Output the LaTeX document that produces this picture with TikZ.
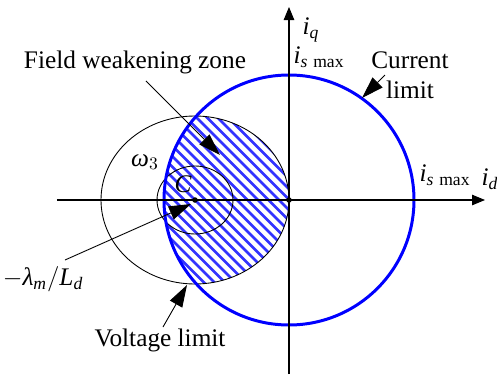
\documentclass[tikz,border=0pt]{standalone}
\usepackage{amsmath}
\usepackage{fontspec}
\setmainfont{Liberation Serif}
\usetikzlibrary{positioning,arrows.meta}
\newcommand{\itv}[1]{\textit{#1}}

\begin{document}
\begin{tikzpicture}[
  x = 0.2mm, y = 0.2mm, font = \fontsize{14.4}{17}\selectfont,
  axis/.style  = {line width=0.6pt, -{Triangle[length=2.6mm, width=2.1mm]}},
  curr/.style  = {draw=blue, line width=1.7pt},
  volt/.style  = {draw=black, line width=0.5pt},
  hatch/.style = {blue!80, line width=0.55mm},
  ptr/.style   = {line width=0.5pt, -{Triangle[length=4.4mm, width=2.8mm]}},
  dot/.style   = {circle, fill, inner sep=0pt, minimum size=1.1mm},
  lbl/.style   = {inner sep=1pt, align=center}
]
\useasboundingbox (-289,-174) rectangle (208,200);
% field weakening zone
\begin{scope}
  \clip (0,0) circle (125);
  \clip (-94,0) ellipse (94 and 84);
  \foreach \c in {-220,-209.5,...,80}
    \draw[hatch] (\c-150,150) -- (\c+150,-150);
\end{scope}
\draw[volt] (-94,0) ellipse (94 and 84);
\draw[volt] (-94,0) ellipse (38 and 34);
\draw[curr] (0,0) circle (125);
% axes
\coordinate (xl) at (-232,0);
\coordinate (xr) at (196,0);
\coordinate (yb) at (0,-174);
\coordinate (yt) at (0,193);
\draw[axis] (xl) -- (xr);
\draw[axis] (yb) -- (yt);
\node[dot] (O)  at (0,0) {};
\node[dot] (Cd) at (-94,0) {};
% labels
\node[lbl] (fwz) at (-154,138) {Field weakening zone};
\node[lbl] (om)  at (-144,38)  {$\itv{ω}_3$};
\node[lbl] (cl)  at (-106,16)  {$\itv{C}$};
\node[lbl] (iq)  at (22,170)   {$\itv{i}_{\itv{q}}$};
\node[lbl] (ism) at (30,143)   {$\itv{i}_{\itv{s}\,\max}$};
\node[lbl] (cur) at (121,125)  {Current\\limit};
\node[lbl] (isr) at (156,25)   {$\itv{i}_{\itv{s}\,\max}$};
\node[lbl] (id)  at (201,21)   {$\itv{i}_{\itv{d}}$};
\node[lbl] (lam) at (-246,-79) {$-\itv{λ}_{\itv{m}}/\itv{L}_{\itv{d}}$};
\node[lbl] (vl)  at (-129,-140) {Voltage limit};
% pointers
\coordinate (fwzTail) at (-143,119);  \coordinate (fwzTip) at (-69,45);
\coordinate (curTail) at (96,125);    \coordinate (curTip) at (73,102);
\coordinate (lamTail) at (-224,-60);  \coordinate (lamTip) at (-98,-4);
\coordinate (vlTail)  at (-126,-127); \coordinate (vlTip)  at (-102,-85);
\draw[ptr] (fwzTail) -- (fwzTip);
\draw[ptr] (curTail) -- (curTip);
\draw[ptr] (lamTail) -- (lamTip);
\draw[ptr] (vlTail)  -- (vlTip);
\end{tikzpicture}
\end{document}
